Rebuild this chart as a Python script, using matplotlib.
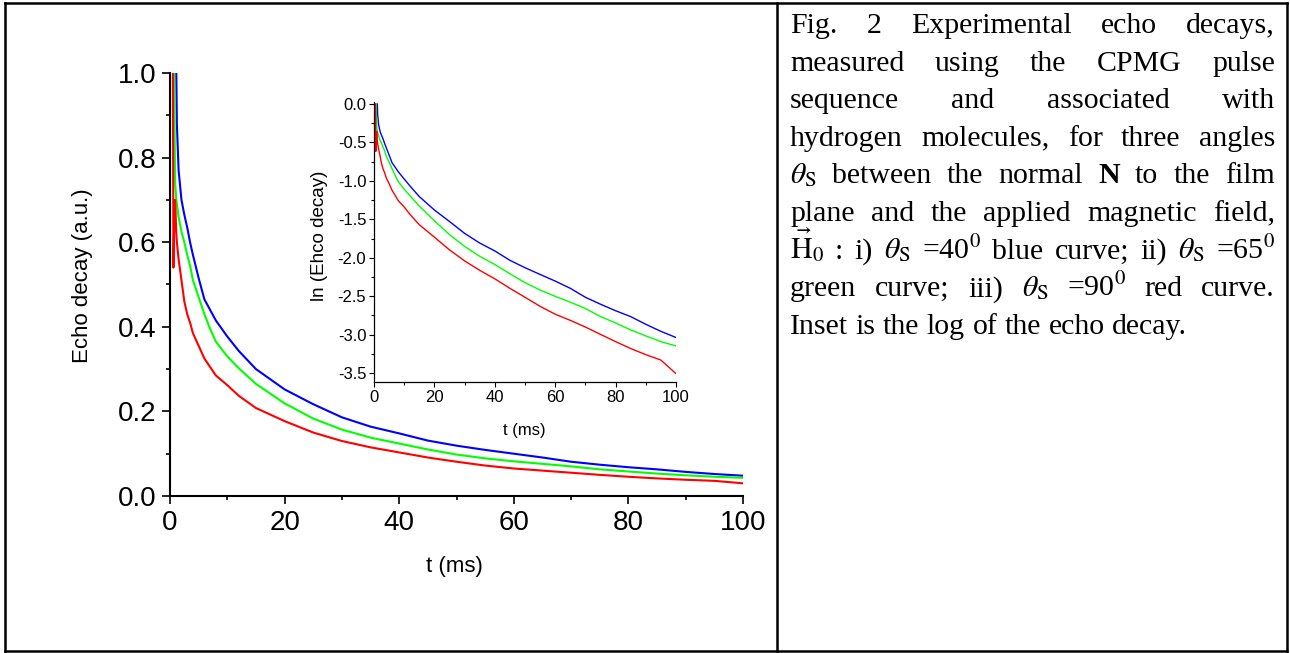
import numpy as np
import matplotlib
matplotlib.use('Agg')
import matplotlib.pyplot as plt
from matplotlib.lines import Line2D
from matplotlib.ticker import MultipleLocator, FormatStrFormatter
from matplotlib import font_manager as fm

# ---------------- data ----------------
nan = np.nan
t_ms = [0.5, 0.6, 0.7, 0.9, 1.1, 1.2, 1.5, 2, 2.5, 3, 3.5, 4, 5, 6, 7, 8, 10, 12, 15,
        20, 25, 30, 35, 40, 45, 50, 55, 60, 65, 70, 75, 80, 85, 90, 95, 100]
blue_decay = [nan, nan, nan, nan, 1.0, 0.88, 0.77, 0.70, 0.665, 0.635, 0.60, 0.57, 0.515,
              0.465, 0.44, 0.415, 0.377, 0.343, 0.30,
              0.252, 0.217, 0.186, 0.164, 0.148, 0.131, 0.119, 0.109, 0.100, 0.091,
              0.081, 0.074, 0.068, 0.063, 0.057, 0.052, 0.048]
green_decay = [nan, nan, 1.0, 0.74, 0.70, 0.69, 0.66, 0.625, 0.60, 0.57, 0.545, 0.51, 0.47,
               0.43, 0.395, 0.365, 0.33, 0.302, 0.265,
               0.219, 0.183, 0.157, 0.138, 0.124, 0.110, 0.098, 0.089, 0.082, 0.076,
               0.070, 0.063, 0.058, 0.053, 0.049, 0.0455, 0.043]
red_decay = [1.0, 0.54, 0.62, 0.70, 0.62, 0.60, 0.56, 0.51, 0.46, 0.43, 0.41, 0.385, 0.355,
             0.325, 0.305, 0.285, 0.262, 0.237, 0.208,
             0.177, 0.150, 0.130, 0.115, 0.103, 0.091, 0.081, 0.072, 0.065, 0.060,
             0.055, 0.050, 0.0455, 0.0416, 0.0384, 0.0358, 0.030]
series_colors = ['#0000FF', '#00FF00', '#FF0000']

main_xticks = [0, 20, 40, 60, 80, 100]
main_yticks = [0.0, 0.2, 0.4, 0.6, 0.8, 1.0]
inset_xticks = [0, 20, 40, 60, 80, 100]
inset_yticks = [0.0, -0.5, -1.0, -1.5, -2.0, -2.5, -3.0, -3.5]

main_xlabel = 't (ms)'
main_ylabel = 'Echo decay (a.u.)'
inset_xlabel = 't (ms)'
inset_ylabel = 'ln (Ehco decay)'

caption_lines = [
    (["Fig.", "2", "Experimental", "echo", "decays,"], True),
    (["measured", "using", "the", "CPMG", "pulse"], True),
    (["sequence", "and", "associated", "with"], True),
    (["hydrogen", "molecules,", "for", "three", "angles"], True),
    ([r"$\theta_\mathrm{S}$", "between", "the", "normal", "**N**", "to", "the", "film"], True),
    (["plane", "and", "the", "applied", "magnetic", "field,"], True),
    ([r"$\vec{\mathrm{H}}_0$", ":", "i)", r"$\theta_\mathrm{S}$", r"=40$^0$", "blue", "curve;",
      "ii)", r"$\theta_\mathrm{S}$", r"=65$^0$"], True),
    (["green", "curve;", "iii)", r"$\theta_\mathrm{S}$", r"=90$^0$", "red", "curve."], True),
    (["Inset", "is", "the", "log", "of", "the", "echo", "decay."], False),
]

# ---------------- helpers ----------------
plt.rcParams['font.family'] = ['Liberation Sans', 'DejaVu Sans']
plt.rcParams['mathtext.fontset'] = 'stix'


def has_font(name):
    try:
        fm.findfont(fm.FontProperties(family=name), fallback_to_default=False)
        return True
    except Exception:
        return False


narrow = 'Liberation Sans Narrow' if has_font('Liberation Sans Narrow') else 'Liberation Sans'

W, H = 1290, 653
fig = plt.figure(figsize=(W / 100, H / 100), dpi=100)


def fx(px):
    return px / W


def fy(py):
    return 1 - py / H


t = np.array(t_ms)
series = [np.array(blue_decay), np.array(green_decay), np.array(red_decay)]

# ---------------- main axes ----------------
ax = fig.add_axes([fx(170), fy(496), (743 - 170) / W, (496 - 73) / H])
for y, c in zip(series, series_colors):
    ax.plot(t, y, color=c, lw=1.5)
ax.set_xlim(0, 100)
ax.set_ylim(0, 1.0)
ax.set_xticks(main_xticks)
ax.set_yticks(main_yticks)
ax.xaxis.set_minor_locator(MultipleLocator(10))
ax.yaxis.set_minor_locator(MultipleLocator(0.1))
ax.yaxis.set_major_formatter(FormatStrFormatter('%.1f'))
for s in ['top', 'right']:
    ax.spines[s].set_visible(False)
for s in ['left', 'bottom']:
    ax.spines[s].set_linewidth(1.5)
ax.tick_params(which='major', direction='out', length=6, width=1.2, labelsize=20, pad=4)
ax.tick_params(which='minor', direction='out', length=3, width=1.2)
ax.set_xlabel(main_xlabel, fontsize=16, va='top')
ax.set_ylabel(main_ylabel, fontsize=16)
ax.xaxis.set_label_coords(0.497, -0.142)
ax.yaxis.set_label_coords(-0.134, 0.522)

# ---------------- inset ----------------
ins = fig.add_axes([fx(374), fy(382), (676 - 374) / W, (382 - 102) / H])
for y, c in zip(series, series_colors):
    ins.plot(t, np.log(y), color=c, lw=1.0)
ins.set_xlim(0, 100)
ins.set_ylim(-3.615, 0.026)
ins.set_xticks(inset_xticks)
ins.set_yticks(inset_yticks)
ins.xaxis.set_minor_locator(MultipleLocator(10))
ins.yaxis.set_minor_locator(MultipleLocator(0.25))
ins.yaxis.set_major_formatter(FormatStrFormatter('%.1f'))
for s in ['top', 'right']:
    ins.spines[s].set_visible(False)
for s in ['left', 'bottom']:
    ins.spines[s].set_linewidth(0.9)
ins.tick_params(which='major', direction='out', length=3.5, width=0.8, labelsize=12, pad=2)
ins.tick_params(which='minor', direction='out', length=2, width=0.8)
for lbl in ins.get_xticklabels() + ins.get_yticklabels():
    lbl.set_family(narrow)
ins.set_xlabel(inset_xlabel, fontsize=12, family=narrow, va='top')
ins.set_ylabel(inset_ylabel, fontsize=13.5)
ins.xaxis.set_label_coords(0.497, -0.147)
ins.yaxis.set_label_coords(-0.152, 0.522)

# ---------------- table borders ----------------
lw_b = 1.8
for (x0, y0, x1, y1) in [(5, 3, 1287, 3), (5, 651, 1287, 651), (5, 3, 5, 651),
                         (1287, 3, 1287, 651), (777, 3, 777, 651)]:
    fig.add_artist(Line2D([fx(x0), fx(x1)], [fy(y0), fy(y1)], color='black', lw=lw_b,
                          transform=fig.transFigure))

# ---------------- caption (justified) ----------------
cap_fs = 21.5
cap_left, cap_right = 790, 1275
base0, step = 33, 37.6
fig.canvas.draw()
renderer = fig.canvas.get_renderer()
space_px = 0.25 * cap_fs * 100 / 72
for i, (tokens, justify) in enumerate(caption_lines):
    ybase = base0 + i * step
    objs = []
    for tok in tokens:
        kw = {}
        if tok.startswith('**'):
            tok = tok.strip('*')
            kw['fontweight'] = 'bold'
        o = fig.text(0, 0, tok, fontsize=cap_fs, family=['Liberation Serif', 'DejaVu Serif'],
                     va='baseline', ha='left', **kw)
        objs.append(o)
    widths = [o.get_window_extent(renderer).width for o in objs]
    if justify and len(objs) > 1:
        gap = (cap_right - cap_left - sum(widths)) / (len(objs) - 1)
    else:
        gap = space_px
    x = cap_left
    for o, w in zip(objs, widths):
        o.set_position((fx(x), fy(ybase)))
        x += w + gap

fig.savefig('out.png', dpi=100)
